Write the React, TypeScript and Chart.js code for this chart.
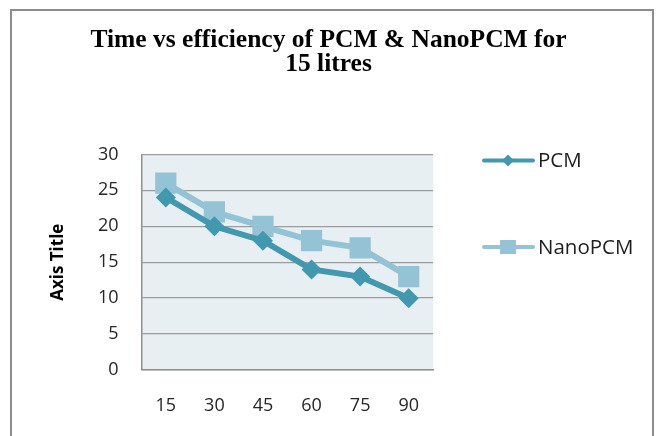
import React, { useEffect, useRef } from "react";
import { Chart, registerables } from "chart.js";

Chart.register(...registerables);

const categories = ["15", "30", "45", "60", "75", "90"];
const pcmValues = [24, 20, 18, 14, 13, 10];
const nanoValues = [26, 22, 20, 18, 17, 13];
const seriesNames = ["PCM", "NanoPCM"];
const titleLines = ["Time vs efficiency of PCM & NanoPCM for", "15 litres"];
const yAxisTitle = "Axis Title";

const PCM_COLOR = "#4198af";
const NANO_COLOR = "#93c3d5";

const bgPlugin = {
  id: "plotBg",
  beforeDraw(chart: any) {
    const { ctx, chartArea } = chart;
    ctx.save();
    ctx.fillStyle = "#e8eff3";
    ctx.fillRect(chartArea.left, chartArea.top, chartArea.right - chartArea.left, chartArea.bottom - chartArea.top);
    ctx.restore();
  },
};

const framePlugin = {
  id: "frameAndLegend",
  afterDraw(chart: any) {
    const { ctx } = chart;
    ctx.save();
    ctx.strokeStyle = "#8c8c8c";
    ctx.lineWidth = 2;
    ctx.strokeRect(11, 10, 642, 500);

    // legend
    const items = [
      { name: seriesNames[0], color: PCM_COLOR, y: 160.5, shape: "diamond" },
      { name: seriesNames[1], color: NANO_COLOR, y: 247, shape: "square" },
    ];
    items.forEach((it) => {
      ctx.strokeStyle = it.color;
      ctx.fillStyle = it.color;
      ctx.lineWidth = 4;
      ctx.lineCap = "round";
      ctx.beginPath();
      ctx.moveTo(484, it.y);
      ctx.lineTo(533, it.y);
      ctx.stroke();
      const cx = 508;
      if (it.shape === "diamond") {
        ctx.beginPath();
        ctx.moveTo(cx - 6, it.y);
        ctx.lineTo(cx, it.y - 6);
        ctx.lineTo(cx + 6, it.y);
        ctx.lineTo(cx, it.y + 6);
        ctx.closePath();
        ctx.fill();
      } else {
        ctx.fillRect(cx - 8, it.y - 7, 16, 14);
      }
      ctx.fillStyle = "#1e1e1e";
      ctx.font = "20.5px 'Open Sans'";
      ctx.textBaseline = "middle";
      ctx.textAlign = "left";
      ctx.fillText(it.name, 538, it.y + 1);
    });
    ctx.restore();
  },
};

export default function App() {
  const ref = useRef<HTMLCanvasElement | null>(null);
  useEffect(() => {
    if (!ref.current) return;
    const chart = new Chart(ref.current, {
      type: "line",
      data: {
        labels: categories,
        datasets: [
          {
            label: seriesNames[0],
            data: pcmValues,
            borderColor: PCM_COLOR,
            backgroundColor: PCM_COLOR,
            borderWidth: 6,
            pointStyle: "rectRot",
            pointRadius: 10,
            pointHoverRadius: 10,
            pointBackgroundColor: PCM_COLOR,
            pointBorderColor: PCM_COLOR,
            pointBorderWidth: 0,
            tension: 0,
          },
          {
            label: seriesNames[1],
            data: nanoValues,
            borderColor: NANO_COLOR,
            backgroundColor: NANO_COLOR,
            borderWidth: 6,
            pointStyle: "rect",
            pointRadius: 15,
            pointHoverRadius: 15,
            pointBackgroundColor: NANO_COLOR,
            pointBorderColor: NANO_COLOR,
            pointBorderWidth: 0,
            tension: 0,
          },
        ],
      },
      options: {
        animation: false,
        responsive: false,
        maintainAspectRatio: false,
        layout: { padding: 0 },
        plugins: {
          legend: { display: false },
          tooltip: { enabled: false },
          title: {
            display: true,
            text: titleLines,
            color: "#000",
            font: { family: "'Liberation Serif', serif", size: 25.5, weight: "bold", lineHeight: 0.92 },
            padding: { top: 29, bottom: 78.5 },
          },
        },
        scales: {
          x: {
            offset: true,
            grid: { display: false, drawTicks: false, offset: true },
            border: { display: true, color: "#8f8f8f", width: 1.5 },
            ticks: { color: "#262626", font: { family: "'Open Sans'", size: 18 }, padding: 25 },
            afterFit: (s: any) => {
              s.height = 66;
            },
          },
          y: {
            min: 0,
            max: 30,
            ticks: { stepSize: 5, color: "#262626", font: { family: "'Open Sans'", size: 18 }, padding: 23 },
            grid: { color: "#9c9c9c", lineWidth: 1.3, drawTicks: false },
            border: { display: true, color: "#8f8f8f", width: 1.5 },
            title: {
              display: true,
              text: yAxisTitle,
              color: "#000",
              font: { family: "'Open Sans'", size: 17, weight: "bold" },
              padding: { top: 48, bottom: 0 },
            },
            afterFit: (s: any) => {
              s.width = 141.5;
            },
          },
          y2: {
            position: "right",
            display: false,
            afterFit: (s: any) => {
              s.width = 224;
            },
          },
        },
      },
      plugins: [bgPlugin, framePlugin],
    });
    return () => chart.destroy();
  }, []);
  return (
    <div style={{ position: "fixed", left: 0, top: 0, width: 657, height: 436, background: "#fff" }}>
      <canvas ref={ref} width={657} height={436} style={{ width: 657, height: 436, display: "block" }} />
    </div>
  );
}
